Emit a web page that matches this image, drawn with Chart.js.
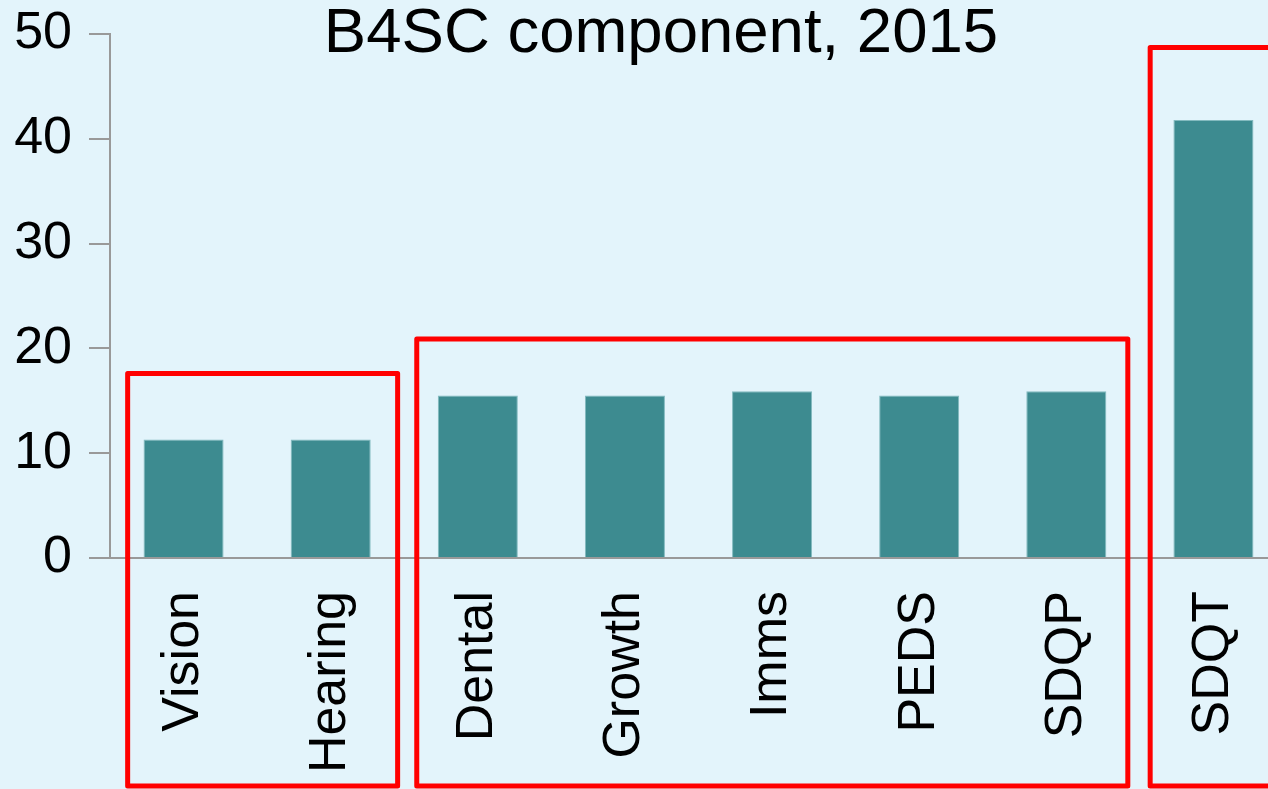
<!DOCTYPE html>
<html>
<head>
<meta charset="utf-8">
<script src="https://cdn.jsdelivr.net/npm/chart.js@4.4.0/dist/chart.umd.min.js"></script>
<style>
  html, body { margin: 0; padding: 0; background: #E3F4FB; overflow: hidden; }
  #wrap { position: absolute; left: 0; top: 0; width: 1322px; height: 789px; }
</style>
</head>
<body>
<div id="wrap"><canvas id="c" width="1322" height="789"></canvas></div>
<script>
const categories = ["Vision", "Hearing", "Dental", "Growth", "Imms", "PEDS", "SDQP", "SDQT"];
const values = [11.3, 11.3, 15.5, 15.5, 15.9, 15.5, 15.9, 41.8];
const yTicks = [0, 10, 20, 30, 40, 50];
const titleText = "B4SC component, 2015";
// highlight groups: first index, last index, top value
const groupStart = [0, 2, 7];
const groupEnd = [1, 6, 7];
const groupTop = [17.6, 20.9, 48.7];

const FONT = "'Liberation Sans', Arial, Helvetica, sans-serif";

const bgPlugin = {
  id: 'bg',
  beforeDraw(chart) {
    const ctx = chart.ctx;
    ctx.save();
    ctx.fillStyle = '#E3F4FB';
    ctx.fillRect(0, 0, chart.width, chart.height);
    ctx.restore();
  }
};

const titlePlugin = {
  id: 'ttl',
  afterDraw(chart) {
    const ctx = chart.ctx;
    ctx.save();
    ctx.fillStyle = '#000';
    ctx.font = "63.5px " + FONT;
    ctx.textAlign = 'center';
    ctx.textBaseline = 'alphabetic';
    ctx.fillText(titleText, chart.width / 2, 52);
    ctx.restore();
  }
};

const boxPlugin = {
  id: 'boxes',
  afterDatasetsDraw(chart) {
    const x = chart.scales.x, y = chart.scales.y;
    const step = x.getPixelForValue(1) - x.getPixelForValue(0);
    const leftFrac = [0.38, 0.415, 0.43];
    const rightFrac = [0.455, 0.418, 0.42];
    const ctx = chart.ctx;
    ctx.save();
    ctx.strokeStyle = '#FF0000';
    ctx.lineWidth = 5;
    ctx.lineJoin = 'round';
    for (let i = 0; i < groupStart.length; i++) {
      const l = x.getPixelForValue(groupStart[i]) - leftFrac[i] * step;
      const r = x.getPixelForValue(groupEnd[i]) + rightFrac[i] * step;
      const t = y.getPixelForValue(groupTop[i]);
      const b = chart.height - 3;
      ctx.strokeRect(l, t, r - l, b - t);
    }
    ctx.restore();
  }
};

new Chart(document.getElementById('c'), {
  type: 'bar',
  data: {
    labels: categories,
    datasets: [{
      data: values,
      backgroundColor: '#3D8B90',
      borderColor: 'rgba(120,180,184,0.9)',
      borderWidth: 1,
      categoryPercentage: 1.0,
      barPercentage: 0.544
    }]
  },
  options: {
    responsive: false,
    animation: false,
    layout: { padding: { top: 34, right: 35, left: 0, bottom: 0 } },
    plugins: {
      legend: { display: false },
      title: { display: false },
      tooltip: { enabled: false }
    },
    scales: {
      x: {
        grid: { display: false, drawTicks: false },
        border: { display: true, color: '#999999', width: 2 },
        ticks: {
          color: '#000',
          font: { family: FONT, size: 52 },
          minRotation: 90,
          maxRotation: 90,
          autoSkip: false,
          padding: 33
        },
        afterFit(scale) { scale.height = 231; scale.paddingLeft = 0; scale.paddingRight = 0; }
      },
      y: {
        min: 0,
        max: 50,
        afterBuildTicks(scale) { scale.ticks = yTicks.map(v => ({ value: v })); },
        grid: { drawOnChartArea: false, drawTicks: true, tickLength: 21, color: '#999999', tickColor: '#999999', lineWidth: 2, tickWidth: 2 },
        border: { display: true, color: '#999999', width: 2 },
        ticks: {
          color: '#000',
          font: { family: FONT, size: 52 },
          padding: 17
        },
        afterFit(scale) { scale.width = 110; scale.paddingTop = 0; scale.paddingBottom = 0; }
      }
    }
  },
  plugins: [bgPlugin, boxPlugin, titlePlugin]
});
</script>
</body>
</html>
